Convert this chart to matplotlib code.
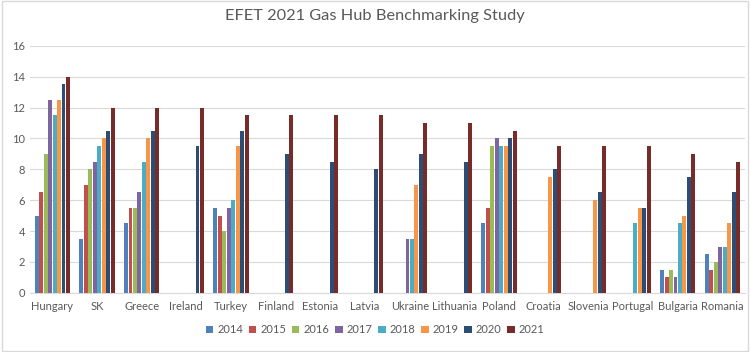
import numpy as np
import matplotlib.pyplot as plt
from matplotlib.patches import Rectangle

plt.rcParams['font.family'] = ['Lato', 'DejaVu Sans']

countries = ["Hungary", "SK", "Greece", "Ireland", "Turkey", "Finland", "Estonia",
             "Latvia", "Ukraine", "Lithuania", "Poland", "Croatia", "Slovenia",
             "Portugal", "Bulgaria", "Romania"]
years = ["2014", "2015", "2016", "2017", "2018", "2019", "2020", "2021"]

nan = np.nan
# one list per year, one value per country (nan = no bar)
v2014 = [5, 3.5, 4.5, nan, 5.5, nan, nan, nan, nan, nan, 4.5, nan, nan, nan, 1.5, 2.5]
v2015 = [6.5, 7, 5.5, nan, 5, nan, nan, nan, nan, nan, 5.5, nan, nan, nan, 1, 1.5]
v2016 = [9, 8, 5.5, nan, 4, nan, nan, nan, nan, nan, 9.5, nan, nan, nan, 1.5, 2]
v2017 = [12.5, 8.5, 6.5, nan, 5.5, nan, nan, nan, 3.5, nan, 10, nan, nan, nan, 1, 3]
v2018 = [11.5, 9.5, 8.5, nan, 6, nan, nan, nan, 3.5, nan, 9.5, nan, nan, 4.5, 4.5, 3]
v2019 = [12.5, 10, 10, nan, 9.5, nan, nan, nan, 7, nan, 9.5, 7.5, 6, 5.5, 5, 4.5]
v2020 = [13.5, 10.5, 10.5, 9.5, 10.5, 9, 8.5, 8, 9, 8.5, 10, 8, 6.5, 5.5, 7.5, 6.5]
v2021 = [14, 12, 12, 12, 11.5, 11.5, 11.5, 11.5, 11, 11, 10.5, 9.5, 9.5, 9.5, 9, 8.5]

series = [v2014, v2015, v2016, v2017, v2018, v2019, v2020, v2021]
colors = ["#4F81BD", "#C0504D", "#9BBB59", "#8064A2", "#4BACC6", "#F79646",
          "#2C4D75", "#772C2A"]

fig = plt.figure(figsize=(7.5, 3.52), dpi=100)
ax = fig.add_axes([0.04, 0.168, 0.953, 0.702])

x = np.arange(len(countries))
step = 0.1
for i, (vals, c) in enumerate(zip(series, colors)):
    ax.bar(x + (i - 3.5) * step, vals, width=0.088, color=c, label=years[i], zorder=3)

ax.set_xlim(-0.5, len(countries) - 0.5)
ax.set_ylim(0, 16)
ax.set_yticks(np.arange(0, 17, 2))
ax.set_xticks(x)
ax.set_xticklabels(countries)
ax.tick_params(axis='both', length=0, labelsize=8, colors="#595959")
ax.tick_params(axis='x', pad=6)
ax.grid(axis='y', color="#D9D9D9", linewidth=0.8, zorder=0)
for s in ["top", "right", "left"]:
    ax.spines[s].set_visible(False)
ax.spines["bottom"].set_color("#D9D9D9")

fig.suptitle("EFET 2021 Gas Hub Benchmarking Study", y=0.975, fontsize=11.8, color="#595959")

fig.legend(loc="center", bbox_to_anchor=(0.5, 0.063), ncol=8, frameon=False,
           fontsize=8, handlelength=0.7, handleheight=0.7, handletextpad=0.35,
           columnspacing=0.5, labelcolor="#595959")

fig.patches.append(Rectangle((0.002, 0.003), 0.995, 0.993, transform=fig.transFigure,
                             fill=False, edgecolor="#D9D9D9", linewidth=1))

fig.savefig("out.png", dpi=100)
